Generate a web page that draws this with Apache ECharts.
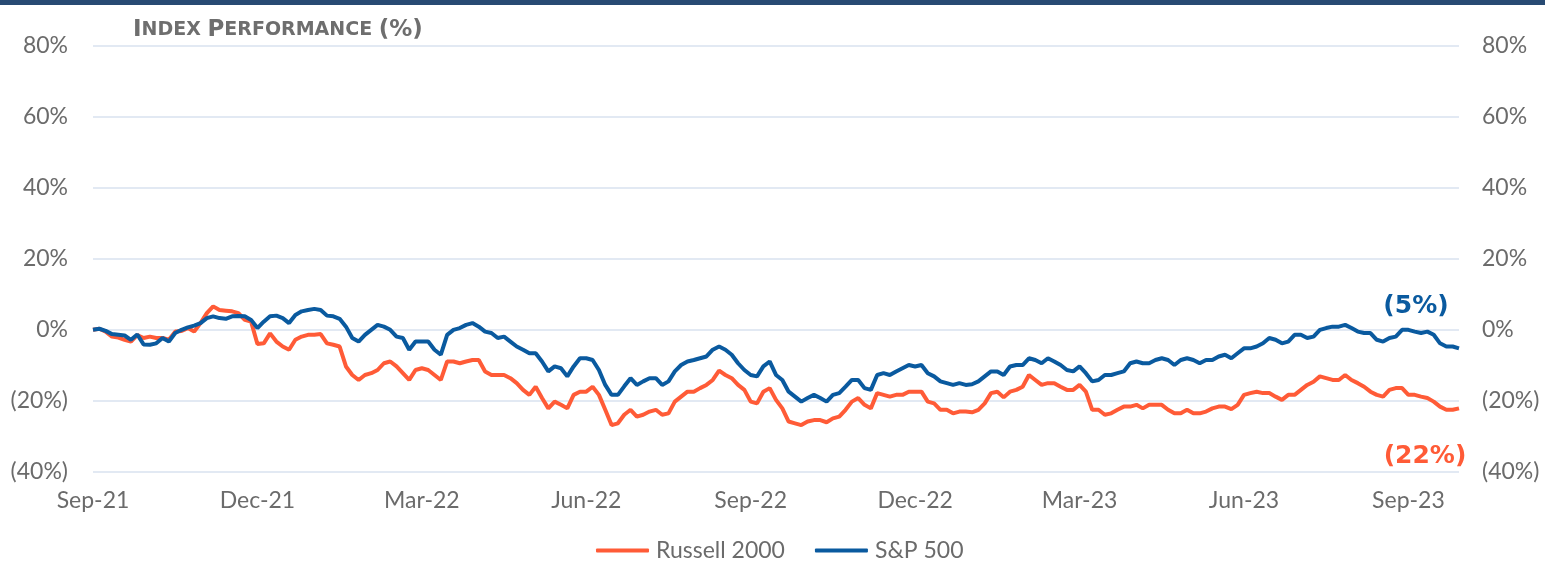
<!DOCTYPE html>
<html>
<head>
<meta charset="utf-8">
<script src="https://cdn.jsdelivr.net/npm/echarts@6/dist/echarts.min.js"></script>
<style>
html,body{margin:0;padding:0;background:#fff;}
#chart{width:1545px;height:563px;}
</style>
</head>
<body>
<div id="chart"></div>
<script>
// ---- DATA ----
var startDate = '2021-09-30';      // first observation
var stepDays = 3.5;                // twice-weekly observations
var labelEvery = 26;               // one x label per quarter
var yTicks = { min: -40, max: 80, step: 20 };

var russell2000 = [
  0.0, 0.3, -0.5, -1.9, -2.2, -2.8, -3.3, -1.5, -2.3, -1.9,
  -2.3, -2.3, -2.8, -0.5, -0.3, 0.5, -0.5, 1.9, 4.7, 6.6,
  5.6, 5.4, 5.2, 4.7, 2.8, 2.3, -4.0, -3.8, -1.0, -3.3,
  -4.7, -5.6, -2.8, -1.9, -1.4, -1.4, -1.2, -3.8, -4.2, -4.7,
  -10.3, -12.7, -14.1, -12.7, -12.2, -11.3, -9.4, -8.9, -10.3, -12.2,
  -14.1, -11.3, -10.8, -11.3, -12.7, -14.1, -8.9, -8.9, -9.4, -8.9,
  -8.5, -8.5, -11.7, -12.7, -12.7, -12.7, -13.6, -15.0, -16.9, -18.3,
  -16.0, -19.2, -22.1, -20.2, -21.1, -22.1, -18.3, -17.4, -17.4, -16.0,
  -18.3, -22.5, -26.8, -26.3, -23.9, -22.5, -24.4, -23.9, -23.0, -22.5,
  -23.9, -23.5, -20.2, -18.8, -17.4, -17.4, -16.4, -15.5, -14.1, -11.5,
  -12.7, -13.6, -15.5, -16.9, -20.2, -20.7, -17.4, -16.4, -19.7, -22.1,
  -25.8, -26.3, -26.8, -25.8, -25.4, -25.4, -26.0, -24.9, -24.4, -22.5,
  -20.2, -19.2, -21.1, -22.1, -17.8, -18.3, -18.8, -18.3, -18.3, -17.4,
  -17.4, -17.4, -20.2, -20.7, -22.5, -22.5, -23.5, -23.0, -23.0, -23.2,
  -22.5, -20.7, -17.8, -17.4, -19.0, -17.4, -16.9, -16.0, -12.7, -14.1,
  -15.5, -15.0, -15.0, -16.0, -16.9, -16.9, -15.5, -17.4, -22.5, -22.5,
  -23.9, -23.5, -22.5, -21.6, -21.6, -21.1, -22.1, -21.1, -21.1, -21.1,
  -22.5, -23.5, -23.5, -22.5, -23.5, -23.5, -23.0, -22.1, -21.6, -21.6,
  -22.3, -21.1, -18.3, -17.8, -17.4, -17.8, -17.8, -18.8, -19.7, -18.3,
  -18.3, -16.9, -15.5, -14.6, -13.1, -13.6, -14.1, -14.1, -12.7, -14.1,
  -15.0, -16.0, -17.4, -18.3, -18.8, -16.9, -16.4, -16.4, -18.3, -18.3,
  -18.8, -19.2, -20.2, -21.6, -22.5, -22.5,
  -22.1
];

var sp500 = [
  0.0, 0.3, -0.3, -1.2, -1.4, -1.6, -2.8, -1.3, -4.1, -4.2,
  -3.8, -2.3, -3.3, -0.9, 0.0, 0.7, 1.2, 1.9, 3.3, 3.8,
  3.3, 3.1, 3.8, 3.9, 3.8, 2.8, 0.5, 2.3, 3.8, 4.0,
  3.3, 1.9, 4.2, 5.2, 5.6, 5.9, 5.6, 4.0, 3.8, 3.1,
  0.9, -2.3, -3.3, -1.4, 0.0, 1.4, 0.9, 0.0, -1.9, -2.3,
  -5.6, -3.3, -3.3, -3.3, -5.6, -7.0, -1.4, 0.0, 0.5, 1.4,
  1.9, 0.9, -0.5, -0.9, -2.3, -1.9, -3.3, -4.7, -5.6, -6.6,
  -6.6, -8.9, -11.7, -10.3, -10.8, -13.1, -10.3, -8.0, -8.0, -8.5,
  -11.3, -15.5, -18.3, -18.3, -15.9, -13.6, -15.5, -14.5, -13.6, -13.6,
  -15.5, -14.5, -11.7, -9.9, -8.9, -8.5, -8.0, -7.5, -5.6, -4.7,
  -5.6, -7.0, -9.4, -11.3, -12.7, -13.1, -10.3, -8.9, -12.7, -14.1,
  -17.4, -18.8, -20.2, -19.2, -18.3, -19.2, -20.2, -18.3, -17.8, -16.0,
  -14.1, -14.1, -16.4, -16.9, -12.7, -12.2, -12.7, -11.7, -10.8, -9.9,
  -10.3, -9.9, -12.2, -13.1, -14.5, -15.0, -15.5, -15.0, -15.5, -15.3,
  -14.5, -13.1, -11.7, -11.7, -12.7, -10.3, -9.9, -9.9, -8.0, -8.5,
  -9.4, -8.0, -8.9, -9.9, -11.3, -11.7, -10.3, -12.2, -14.5, -14.1,
  -12.7, -12.7, -12.2, -11.7, -9.4, -8.9, -9.4, -9.4, -8.5, -8.0,
  -8.5, -9.9, -8.5, -8.0, -8.5, -9.4, -8.5, -8.5, -7.5, -7.0,
  -8.0, -6.6, -5.2, -5.2, -4.7, -3.8, -2.3, -2.8, -3.8, -3.3,
  -1.4, -1.4, -2.3, -1.9, 0.0, 0.5, 0.9, 0.9, 1.4, 0.5,
  -0.5, -0.9, -0.9, -2.8, -3.3, -2.3, -1.9, 0.0, 0.0, -0.5,
  -0.9, -0.5, -1.4, -3.8, -4.7, -4.7,
  -5.2
];

var seriesNames = ['Russell 2000', 'S&P 500'];
var endLabels = ['(22%)', '(5%)'];
var monthNames = ['Jan','Feb','Mar','Apr','May','Jun','Jul','Aug','Sep','Oct','Nov','Dec'];

// ---- BUILD ----
var categories = [];
(function () {
  var t0 = new Date(startDate + 'T00:00:00Z').getTime();
  for (var i = 0; i < sp500.length; i++) {
    var dd = new Date(t0 + i * stepDays * 86400000);
    categories.push(monthNames[dd.getUTCMonth()] + '-' + String(dd.getUTCFullYear()).slice(2));
  }
})();

var FONT = 'Lato, "Noto Sans", sans-serif';
var BOLDFONT = '"DejaVu Sans", sans-serif';
var GRAY = '#6b6b6b';
var ORANGE = '#ff5b37';
var BLUE = '#0a5a9f';

function pct(v) {
  return v < 0 ? '(' + Math.abs(v) + '%)' : v + '%';
}

var lastIdx = categories.length - 1;

function endMark(values, text, offset, color) {
  return {
    symbol: 'circle', symbolSize: 1,
    itemStyle: { color: 'rgba(0,0,0,0)' },
    data: [{ coord: [lastIdx, values[lastIdx]] }],
    label: {
      show: true, position: 'inside', formatter: text,
      offset: offset,
      fontFamily: BOLDFONT, fontWeight: 'bold', fontSize: 25, color: color
    }
  };
}

var chart = echarts.init(document.getElementById('chart'));
chart.setOption({
  animation: false,
  backgroundColor: '#ffffff',
  graphic: [{
    type: 'rect', left: 0, top: 0,
    shape: { width: 1545, height: 5 },
    style: { fill: '#284a73' }
  }],
  title: {
    left: 128, top: 14,
    text: '{b|I}{s|NDEX} {b|P}{s|ERFORMANCE} {b|(%)}',
    textStyle: {
      fontFamily: BOLDFONT, fontWeight: 'bold', fontSize: 19, color: '#6e6e6e',
      rich: {
        b: { fontFamily: BOLDFONT, fontWeight: 'bold', fontSize: 23, color: '#6e6e6e' },
        s: { fontFamily: BOLDFONT, fontWeight: 'bold', fontSize: 19, color: '#6e6e6e' }
      }
    }
  },
  legend: {
    top: 539, left: 596,
    padding: 0,
    data: seriesNames,
    icon: 'roundRect',
    itemWidth: 53, itemHeight: 4,
    itemGap: 30,
    textStyle: { fontFamily: FONT, fontSize: 23, color: GRAY, padding: [0, 0, 0, 2] }
  },
  grid: { left: 93, right: 86, top: 45.5, bottom: 91, containLabel: false },
  xAxis: {
    type: 'category',
    data: categories,
    boundaryGap: false,
    axisLine: { show: false },
    axisTick: { show: false },
    splitLine: { show: false },
    axisLabel: {
      interval: labelEvery - 1,
      margin: 17,
      fontFamily: FONT, fontSize: 23, color: GRAY
    }
  },
  yAxis: [{
    type: 'value', min: yTicks.min, max: yTicks.max, interval: yTicks.step,
    position: 'left',
    axisLine: { show: false }, axisTick: { show: false },
    splitLine: { show: true, lineStyle: { color: '#d8e2ef', width: 1.5 } },
    axisLabel: { margin: 25, fontFamily: FONT, fontSize: 23, color: GRAY, formatter: pct }
  }, {
    type: 'value', min: yTicks.min, max: yTicks.max, interval: yTicks.step,
    position: 'right',
    axisLine: { show: false }, axisTick: { show: false },
    splitLine: { show: false },
    axisLabel: { margin: 23, fontFamily: FONT, fontSize: 23, color: GRAY, formatter: pct }
  }],
  series: [{
    name: seriesNames[0],
    type: 'line',
    data: russell2000,
    symbol: 'none',
    color: ORANGE,
    lineStyle: { width: 4, color: ORANGE },
    z: 2,
    markPoint: endMark(russell2000, endLabels[0], [-34, 48], ORANGE)
  }, {
    name: seriesNames[1],
    type: 'line',
    data: sp500,
    symbol: 'none',
    color: BLUE,
    lineStyle: { width: 4, color: BLUE },
    z: 3,
    markPoint: endMark(sp500, endLabels[1], [-43, -42], BLUE)
  }]
});
</script>
</body>
</html>
